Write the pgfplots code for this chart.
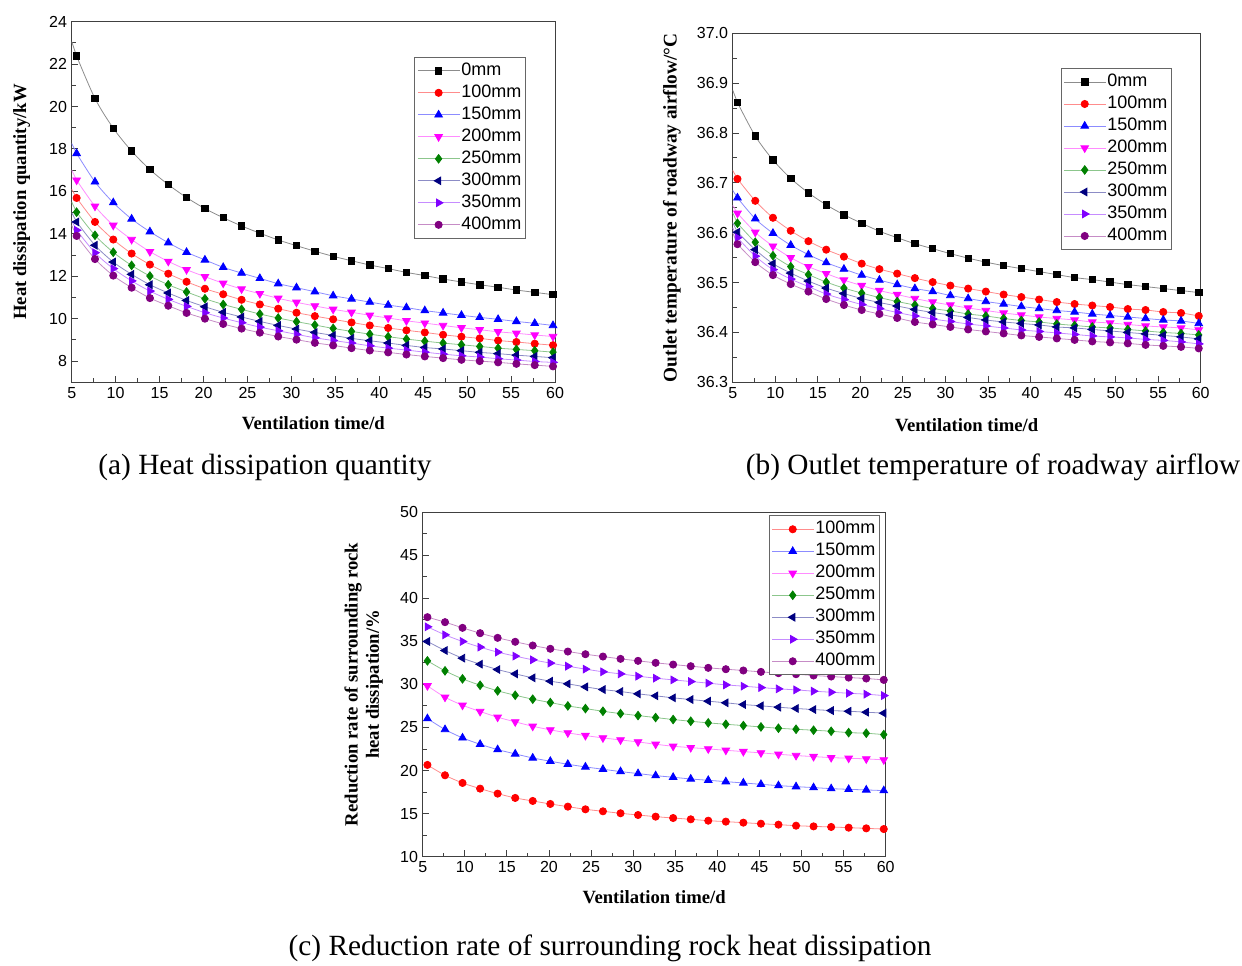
\documentclass[border=0pt]{standalone}
\usepackage{fontspec}
\setmainfont{Liberation Sans}
\newfontfamily\serif{Liberation Serif}
\usepackage{pgfplots}
\usepackage{pgfplotstable}
\pgfplotsset{compat=1.18}

\definecolor{c1}{RGB}{255,0,0}
\definecolor{c2}{RGB}{0,0,255}
\definecolor{c3}{RGB}{255,0,255}
\definecolor{c4}{RGB}{0,128,0}
\definecolor{c5}{RGB}{0,0,128}
\definecolor{c6}{RGB}{128,0,255}
\definecolor{c7}{RGB}{128,0,128}

\pgfplotstableread{
x a0 a100 a150 a200 a250 a300 a350 a400
5.56 22.38 15.69 17.79 16.53 15.02 14.56 14.17 13.90
7.65 20.38 14.56 16.45 15.30 13.93 13.46 13.11 12.81
9.73 18.98 13.73 15.47 14.40 13.13 12.67 12.36 12.03
11.82 17.90 13.07 14.70 13.73 12.51 12.09 11.78 11.46
13.90 17.03 12.55 14.10 13.16 12.01 11.60 11.30 10.97
15.99 16.32 12.12 13.58 12.70 11.60 11.21 10.91 10.61
18.07 15.71 11.74 13.13 12.31 11.26 10.86 10.58 10.27
20.16 15.19 11.41 12.77 11.98 10.94 10.56 10.28 10.00
22.24 14.76 11.15 12.42 11.67 10.67 10.30 10.03 9.75
24.33 14.37 10.89 12.15 11.40 10.44 10.08 9.81 9.53
26.41 14.03 10.67 11.90 11.18 10.22 9.87 9.60 9.34
28.50 13.71 10.47 11.65 10.96 10.03 9.68 9.43 9.16
30.58 13.44 10.28 11.46 10.77 9.86 9.51 9.26 9.01
32.67 13.18 10.12 11.27 10.60 9.70 9.35 9.10 8.86
34.75 12.94 9.97 11.08 10.44 9.54 9.21 8.97 8.74
36.84 12.73 9.82 10.93 10.30 9.40 9.07 8.85 8.61
38.92 12.53 9.68 10.78 10.16 9.27 8.96 8.72 8.50
41.01 12.36 9.56 10.64 10.03 9.15 8.85 8.61 8.41
43.09 12.18 9.45 10.52 9.90 9.04 8.74 8.52 8.31
45.18 12.03 9.35 10.38 9.79 8.94 8.64 8.42 8.22
47.26 11.87 9.24 10.27 9.68 8.85 8.57 8.33 8.14
49.35 11.73 9.15 10.16 9.57 8.77 8.49 8.25 8.06
51.43 11.60 9.07 10.06 9.48 8.69 8.41 8.19 8.00
53.52 11.48 8.97 9.97 9.38 8.61 8.35 8.11 7.94
55.60 11.35 8.90 9.87 9.31 8.55 8.28 8.05 7.87
57.69 11.24 8.82 9.78 9.23 8.49 8.22 7.98 7.81
59.77 11.13 8.75 9.68 9.16 8.42 8.16 7.94 7.75
}\tabA

\pgfplotstableread{
x b0 b100 b150 b200 b250 b300 b350 b400
5.56 36.861 36.708 36.670 36.639 36.619 36.601 36.590 36.577
7.65 36.794 36.664 36.628 36.601 36.581 36.566 36.553 36.541
9.73 36.746 36.630 36.599 36.573 36.554 36.538 36.526 36.515
11.82 36.709 36.604 36.575 36.550 36.532 36.519 36.507 36.497
13.90 36.680 36.583 36.556 36.532 36.516 36.503 36.492 36.482
15.99 36.656 36.566 36.540 36.518 36.501 36.489 36.477 36.467
18.07 36.636 36.552 36.527 36.505 36.489 36.478 36.466 36.455
20.16 36.619 36.538 36.515 36.494 36.479 36.468 36.456 36.445
22.24 36.603 36.527 36.505 36.484 36.470 36.460 36.448 36.437
24.33 36.590 36.518 36.496 36.476 36.462 36.453 36.440 36.429
26.41 36.578 36.509 36.488 36.468 36.455 36.446 36.433 36.421
28.50 36.568 36.501 36.482 36.461 36.448 36.440 36.427 36.416
30.58 36.558 36.494 36.474 36.455 36.443 36.435 36.422 36.411
32.67 36.549 36.488 36.468 36.449 36.437 36.430 36.417 36.406
34.75 36.541 36.482 36.462 36.444 36.433 36.425 36.413 36.402
36.84 36.534 36.476 36.457 36.439 36.428 36.421 36.409 36.398
38.92 36.528 36.471 36.452 36.435 36.424 36.418 36.405 36.394
41.01 36.522 36.466 36.448 36.431 36.421 36.415 36.402 36.391
43.09 36.516 36.461 36.444 36.428 36.417 36.411 36.399 36.388
45.18 36.510 36.457 36.441 36.425 36.414 36.409 36.396 36.385
47.26 36.506 36.454 36.437 36.421 36.411 36.406 36.393 36.382
49.35 36.501 36.451 36.434 36.419 36.409 36.403 36.391 36.380
51.43 36.496 36.447 36.431 36.416 36.406 36.400 36.389 36.378
53.52 36.492 36.445 36.428 36.413 36.403 36.397 36.386 36.375
55.60 36.488 36.441 36.425 36.411 36.400 36.394 36.384 36.373
57.69 36.484 36.439 36.423 36.409 36.398 36.391 36.381 36.371
59.77 36.480 36.433 36.418 36.405 36.395 36.387 36.377 36.368
}\tabB

\pgfplotstableread{
x r100 r150 r200 r250 r300 r350 r400
5.56 20.65 26.03 29.83 32.73 34.98 36.68 37.80
7.65 19.45 24.76 28.51 31.57 33.93 35.75 37.22
9.73 18.56 23.79 27.58 30.64 33.04 34.98 36.56
11.82 17.90 23.05 26.85 29.90 32.34 34.32 35.94
13.90 17.32 22.43 26.19 29.25 31.72 33.74 35.40
15.99 16.82 21.93 25.65 28.74 31.22 33.28 34.94
18.07 16.47 21.46 25.14 28.28 30.76 32.85 34.51
20.16 16.12 21.08 24.72 27.89 30.37 32.47 34.13
22.24 15.81 20.73 24.37 27.50 30.06 32.11 33.81
24.33 15.50 20.42 24.06 27.19 29.71 31.77 33.50
26.41 15.27 20.15 23.79 26.88 29.40 31.46 33.23
28.50 15.04 19.88 23.55 26.61 29.17 31.22 32.96
30.58 14.84 19.65 23.32 26.38 28.90 30.95 32.73
32.67 14.65 19.41 23.05 26.15 28.67 30.72 32.50
34.75 14.49 19.22 22.82 25.92 28.44 30.52 32.30
36.84 14.34 19.02 22.66 25.72 28.24 30.33 32.11
38.92 14.18 18.87 22.51 25.53 28.05 30.14 31.92
41.01 14.07 18.71 22.35 25.37 27.86 29.94 31.76
43.09 13.95 18.56 22.20 25.22 27.66 29.79 31.61
45.18 13.83 18.40 22.05 25.06 27.51 29.63 31.45
47.26 13.72 18.25 21.89 24.91 27.35 29.48 31.30
49.35 13.60 18.13 21.74 24.79 27.20 29.36 31.18
51.43 13.52 18.02 21.62 24.68 27.08 29.21 31.03
53.52 13.45 17.90 21.50 24.56 26.96 29.09 30.91
55.60 13.37 17.82 21.43 24.40 26.88 28.97 30.79
57.69 13.29 17.75 21.35 24.33 26.77 28.86 30.68
59.77 13.21 17.67 21.24 24.17 26.66 28.70 30.52
}\tabC

\pgfplotsset{
  panel/.style={
    scale only axis, anchor=south west,
    xmin=5, xmax=60, xtick={5,10,...,60},
    minor x tick num=1, minor y tick num=1,
    tick align=inside, xtick pos=bottom, ytick pos=left,
    major tick length=5pt, minor tick length=3pt,
    axis line style={line width=0.8pt, black!75},
    every tick/.style={black!75, line width=0.7pt},
    tick label style={font=\fontsize{12}{14}\selectfont},
    /pgf/number format/assume math mode=true,
    label style={font=\serif\bfseries\fontsize{14}{16}\selectfont},
    xlabel={Ventilation time/d},
    legend cell align=left,
    legend image code/.code={\draw[mark repeat=2,mark phase=2] plot coordinates {(0pt,0pt)(15.5pt,0pt)(31pt,0pt)};},
    legend style={draw=black!60, line width=0.7pt, fill=white, anchor=north east,
      font=\fontsize{13.5}{15}\selectfont, row sep=0pt, inner sep=2pt,
      nodes={inner sep=1.2pt, text height=10.5pt, text depth=3.6pt}},
  },
  s0/.style={color=black!45, line width=0.6pt, smooth, mark=square*, mark size=2.4pt, mark options={draw=black, fill=black}},
  s1/.style={color=c1!45, line width=0.6pt, smooth, mark=*, mark size=2.7pt, mark options={draw=c1, fill=c1}},
  s2/.style={color=c2!45, line width=0.6pt, smooth, mark=triangle*, mark size=3.3pt, mark options={draw=c2, fill=c2}},
  s3/.style={color=c3!45, line width=0.6pt, smooth, mark=triangle*, mark size=3.3pt, mark options={draw=c3, fill=c3, rotate=180}},
  s4/.style={color=c4!45, line width=0.6pt, smooth, mark=diamond*, mark size=3.2pt, mark options={draw=c4, fill=c4}},
  s5/.style={color=c5!45, line width=0.6pt, smooth, mark=triangle*, mark size=3.3pt, mark options={draw=c5, fill=c5, rotate=90}},
  s6/.style={color=c6!45, line width=0.6pt, smooth, mark=triangle*, mark size=3.3pt, mark options={draw=c6, fill=c6, rotate=-90}},
  s7/.style={color=c7!45, line width=0.6pt, smooth, mark=*, mark size=2.7pt, mark options={draw=c7, fill=c7}},
}
\newcommand{\ext}[3]{\addplot[#1, mark=none, forget plot] coordinates {(5,#2)(5.56,#3)};}

\begin{document}
\begin{tikzpicture}
\useasboundingbox (0,0) rectangle (931.5pt,723.75pt);

% (a)
\begin{axis}[panel, at={(53.775pt,437.025pt)}, width=362.5pt, height=270.45pt,
  ymin=7, ymax=24, ytick={8,10,...,24},
  ylabel={Heat dissipation quantity/kW},
  xlabel style={at={(axis description cs:0.5,-0.1137)}, anchor=center},
  ylabel style={at={(axis description cs:-0.1035,0.5)}, anchor=center},
  legend style={at={(0.94,0.903)}}]
\ext{s0}{23.06}{22.38}
\ext{s1}{16.10}{15.69}
\ext{s2}{18.26}{17.79}
\ext{s3}{17.00}{16.53}
\ext{s4}{15.50}{15.02}
\ext{s5}{15.00}{14.56}
\ext{s6}{14.60}{14.17}
\ext{s7}{14.40}{13.90}
\addplot[s0] table[x=x,y=a0]{\tabA};
\addplot[s1] table[x=x,y=a100]{\tabA};
\addplot[s2] table[x=x,y=a150]{\tabA};
\addplot[s3] table[x=x,y=a200]{\tabA};
\addplot[s4] table[x=x,y=a250]{\tabA};
\addplot[s5] table[x=x,y=a300]{\tabA};
\addplot[s6] table[x=x,y=a350]{\tabA};
\addplot[s7] table[x=x,y=a400]{\tabA};
\legend{0mm,100mm,150mm,200mm,250mm,300mm,350mm,400mm}
\end{axis}

% (b)
\begin{axis}[panel, at={(549.525pt,437.025pt)}, width=351pt, height=261.75pt,
  ymin=36.3, ymax=37.0, ytick={36.3,36.4,...,37.0},
  yticklabel style={/pgf/number format/.cd, fixed, fixed zerofill, precision=1},
  ylabel={Outlet temperature of roadway airflow/°C},
  xlabel style={at={(axis description cs:0.5,-0.123)}, anchor=center},
  ylabel style={at={(axis description cs:-0.130,0.5)}, anchor=center, font=\serif\bfseries\fontsize{14.5}{16}\selectfont},
  legend style={at={(0.939,0.901)}}]
\ext{s0}{36.886}{36.861}
\ext{s1}{36.725}{36.708}
\ext{s2}{36.685}{36.670}
\ext{s3}{36.655}{36.639}
\ext{s4}{36.640}{36.619}
\ext{s5}{36.620}{36.601}
\ext{s6}{36.610}{36.590}
\ext{s7}{36.600}{36.577}
\addplot[s0] table[x=x,y=b0]{\tabB};
\addplot[s1] table[x=x,y=b100]{\tabB};
\addplot[s2] table[x=x,y=b150]{\tabB};
\addplot[s3] table[x=x,y=b200]{\tabB};
\addplot[s4] table[x=x,y=b250]{\tabB};
\addplot[s5] table[x=x,y=b300]{\tabB};
\addplot[s6] table[x=x,y=b350]{\tabB};
\addplot[s7] table[x=x,y=b400]{\tabB};
\legend{0mm,100mm,150mm,200mm,250mm,300mm,350mm,400mm}
\end{axis}

% (c)
\begin{axis}[panel, at={(317.025pt,81.225pt)}, width=347.25pt, height=258.5pt,
  ymin=10, ymax=50, ytick={10,15,...,50},
  ylabel={Reduction rate of surrounding rock\\heat dissipation/\%},
  xlabel style={at={(axis description cs:0.5,-0.116)}, anchor=center},
  ylabel style={at={(axis description cs:-0.1274,0.5)}, anchor=center, align=center},
  legend style={at={(0.988,0.991)}}]
\addplot[s1] table[x=x,y=r100]{\tabC};
\addplot[s2] table[x=x,y=r150]{\tabC};
\addplot[s3] table[x=x,y=r200]{\tabC};
\addplot[s4] table[x=x,y=r250]{\tabC};
\addplot[s5] table[x=x,y=r300]{\tabC};
\addplot[s6] table[x=x,y=r350]{\tabC};
\addplot[s7] table[x=x,y=r400]{\tabC};
\legend{100mm,150mm,200mm,250mm,300mm,350mm,400mm}
\end{axis}

\node[font=\serif\fontsize{22}{26}\selectfont] at (198.75pt,373.5pt) {(a) Heat dissipation quantity};
\node[font=\serif\fontsize{22}{26}\selectfont] at (744.75pt,373.5pt) {(b) Outlet temperature of roadway airflow};
\node[font=\serif\fontsize{22}{26}\selectfont] at (457.5pt,12.75pt) {(c) Reduction rate of surrounding rock heat dissipation};
\end{tikzpicture}
\end{document}
